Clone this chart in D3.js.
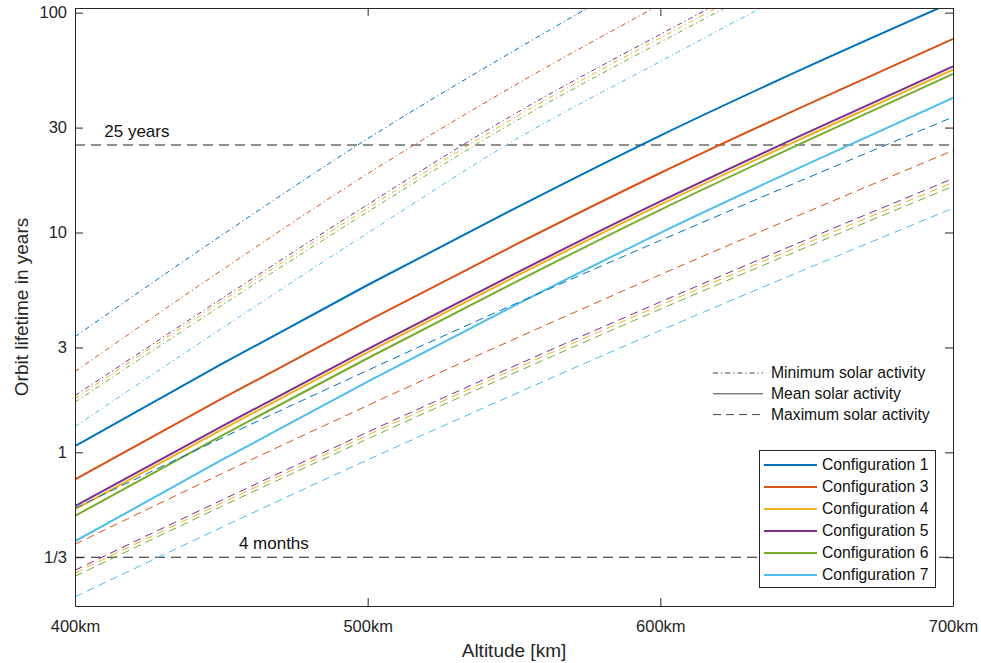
<!DOCTYPE html>
<html>
<head>
<meta charset="utf-8">
<script src="https://cdn.jsdelivr.net/npm/d3@7"></script>
<style>
  body { margin: 0; background: #fff; }
  text { font-family: "Liberation Sans", Arial, Helvetica, sans-serif; fill: #262626; }
</style>
</head>
<body>
<svg id="chart" width="981" height="663"></svg>
<script>
// Orbit altitude samples (km)
const altitudes = [400, 450, 500, 550, 600, 650, 700];

const configNames = ["Configuration 1", "Configuration 3", "Configuration 4",
                     "Configuration 5", "Configuration 6", "Configuration 7"];

// Orbit lifetime in years, one row per configuration (1, 3, 4, 5, 6, 7)
const minSolar = [
  [3.36, 9.69, 26.7, 67.1, 161, 368, 825],
  [2.33, 6.72, 18.5, 46.5, 109, 250, 559],
  [1.76, 4.85, 12.9, 33.2, 76.8, 172, 376],
  [1.81, 4.99, 13.4, 34.5, 79.7, 178, 390],
  [1.69, 4.65, 12.4, 31.8, 73.3, 164, 359],
  [1.31, 3.65, 9.94, 26.2, 60.0, 135, 295]
];
const meanSolar = [
  [1.068, 2.516, 5.77, 12.81, 27.6, 56.5, 111.9],
  [0.753, 1.749, 3.96, 8.73, 18.65, 38.1, 76],
  [0.550, 1.266, 2.847, 6.26, 13.38, 27.4, 55],
  [0.569, 1.31, 2.945, 6.47, 13.84, 28.4, 57],
  [0.514, 1.189, 2.679, 5.90, 12.68, 26.1, 52.6],
  [0.394, 0.921, 2.096, 4.64, 9.97, 20.4, 40.9]
];
const maxSolar = [
  [0.557, 1.159, 2.36, 4.71, 9.20, 17.66, 33.5],
  [0.382, 0.798, 1.633, 3.27, 6.43, 12.39, 23.6],
  [0.283, 0.587, 1.197, 2.388, 4.67, 8.95, 16.9],
  [0.291, 0.605, 1.236, 2.466, 4.83, 9.29, 17.6],
  [0.273, 0.567, 1.151, 2.292, 4.48, 8.59, 16.2],
  [0.220, 0.455, 0.924, 1.834, 3.58, 6.84, 12.9]
];

const xTicks = [400, 500, 600, 700];
const xTickLabels = ["400km", "500km", "600km", "700km"];
const yTicks = [1/3, 1, 3, 10, 30, 100];
const yTickLabels = ["1/3", "1", "3", "10", "30", "100"];

const refLevels = [25, 1/3];
const refLabels = ["25 years", "4 months"];
const refLabelAlt = [410, 456];

const activityLabels = ["Minimum solar activity", "Mean solar activity", "Maximum solar activity"];

// MATLAB default colour order
const colors = ["#0072BD", "#D95319", "#EDB120", "#7E2F8E", "#77AC30", "#4DBEEE"];
const styles = [
  { dash: "5,3,1.2,3", width: 1 },   // minimum: dash-dot
  { dash: null,        width: 2 },   // mean: solid
  { dash: "8,5",       width: 1 }    // maximum: dashed
];

const plot = { left: 75, right: 953, top: 8, bottom: 606 };
const svg = d3.select("#chart");

const x = d3.scaleLinear().domain([400, 700]).range([plot.left, plot.right]);
const y = d3.scaleLog().domain([0.2, 105]).range([plot.bottom, plot.top]);

svg.append("defs").append("clipPath").attr("id", "plot-clip")
  .append("rect")
  .attr("x", plot.left).attr("y", plot.top)
  .attr("width", plot.right - plot.left).attr("height", plot.bottom - plot.top);

const marks = svg.append("g").attr("clip-path", "url(#plot-clip)");

const line = d3.line()
  .x((d, i) => x(altitudes[i]))
  .y(d => y(d))
  .curve(d3.curveMonotoneX);

// Reference lifetimes (25 years, 4 months)
marks.selectAll(".ref").data(refLevels).join("line")
  .attr("class", "ref")
  .attr("x1", plot.left).attr("x2", plot.right)
  .attr("y1", d => y(d)).attr("y2", d => y(d))
  .attr("stroke", "#222").attr("stroke-width", 1.1)
  .attr("stroke-dasharray", "10,6");

svg.selectAll(".ref-label").data(refLabels).join("text")
  .attr("class", "ref-label")
  .attr("x", (d, i) => x(refLabelAlt[i]))
  .attr("y", (d, i) => y(refLevels[i]) - 8)
  .attr("font-size", 17)
  .style("fill", "#111")
  .text(d => d);

// Lifetime curves
[minSolar, meanSolar, maxSolar].forEach((set, s) => {
  set.forEach((vals, c) => {
    const p = marks.append("path")
      .attr("d", line(vals))
      .attr("fill", "none")
      .attr("stroke", colors[c])
      .attr("stroke-width", styles[s].width);
    if (styles[s].dash) p.attr("stroke-dasharray", styles[s].dash);
  });
});

// Axes (ticks pointing inward, boxed)
const axisG = svg.append("g");
axisG.append("g")
  .attr("transform", `translate(0,${plot.bottom})`)
  .call(d3.axisBottom(x).tickValues(xTicks).tickFormat((d, i) => xTickLabels[i])
        .tickSizeInner(-8).tickSizeOuter(0).tickPadding(14));
axisG.append("g")
  .attr("transform", `translate(0,${plot.top})`)
  .call(d3.axisTop(x).tickValues(xTicks).tickFormat("")
        .tickSizeInner(-8).tickSizeOuter(0));
axisG.append("g")
  .attr("transform", `translate(${plot.left},0)`)
  .call(d3.axisLeft(y).tickValues(yTicks).tickFormat((d, i) => yTickLabels[i])
        .tickSizeInner(-8).tickSizeOuter(0).tickPadding(8));
axisG.append("g")
  .attr("transform", `translate(${plot.right},0)`)
  .call(d3.axisRight(y).tickValues(yTicks).tickFormat("")
        .tickSizeInner(-8).tickSizeOuter(0));
axisG.selectAll(".domain, .tick line").attr("stroke", "#262626").attr("stroke-width", 1);
axisG.selectAll(".tick text").attr("font-size", 16.5).style("fill", "#262626");

// Axis titles
svg.append("text")
  .attr("x", (plot.left + plot.right) / 2).attr("y", 657)
  .attr("text-anchor", "middle").attr("font-size", 19)
  .text("Altitude [km]");
svg.append("text")
  .attr("transform", `translate(28,${(plot.top + plot.bottom) / 2}) rotate(-90)`)
  .attr("text-anchor", "middle").attr("font-size", 19)
  .text("Orbit lifetime in years");

// Line-style legend (solar activity)
const styleLegend = svg.append("g");
activityLabels.forEach((label, i) => {
  const yy = 373 + i * 20.8;
  const l = styleLegend.append("line")
    .attr("x1", 713).attr("x2", 763).attr("y1", yy).attr("y2", yy)
    .attr("stroke", "#404040").attr("stroke-width", 1);
  if (styles[i].dash) l.attr("stroke-dasharray", styles[i].dash);
  styleLegend.append("text")
    .attr("x", 771).attr("y", yy).attr("dy", "0.35em")
    .attr("font-size", 15.7).style("fill", "#111")
    .text(label);
});

// Colour legend (configurations)
const legend = svg.append("g");
legend.append("rect")
  .attr("x", 759.5).attr("y", 450.5).attr("width", 176).attr("height", 137)
  .attr("fill", "#fff").attr("stroke", "#262626").attr("stroke-width", 1);
configNames.forEach((name, i) => {
  const yy = 465 + i * 22;
  legend.append("line")
    .attr("x1", 764).attr("x2", 817).attr("y1", yy).attr("y2", yy)
    .attr("stroke", colors[i]).attr("stroke-width", 2);
  legend.append("text")
    .attr("x", 822).attr("y", yy).attr("dy", "0.35em")
    .attr("font-size", 15.7).style("fill", "#111")
    .text(name);
});
</script>
</body>
</html>
